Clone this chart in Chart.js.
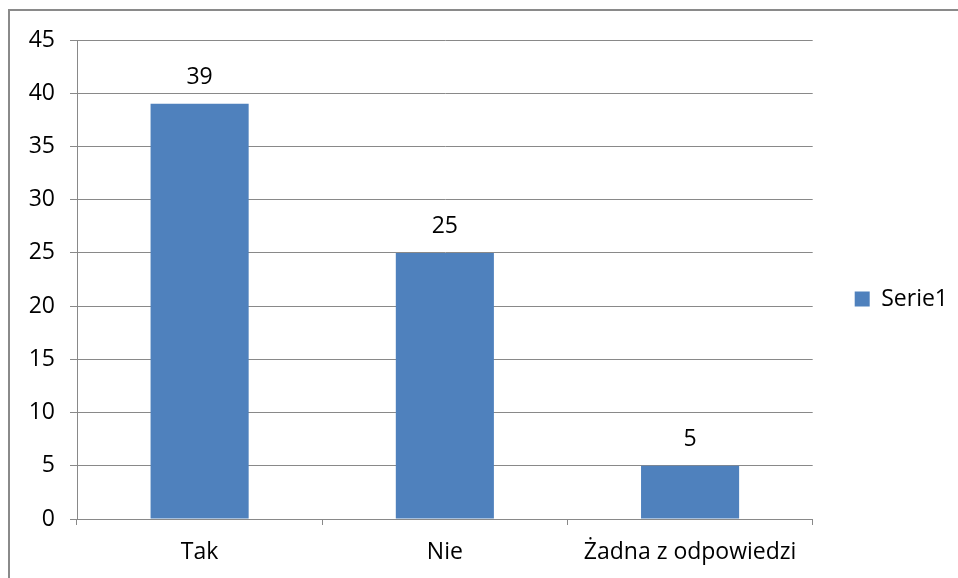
<!DOCTYPE html>
<html>
<head>
<meta charset="utf-8">
<script src="https://cdn.jsdelivr.net/npm/chart.js@4/dist/chart.umd.min.js"></script>
<style>
  html, body { margin: 0; padding: 0; background: #fff; }
  #wrap { position: relative; width: 958px; height: 578px; overflow: hidden; }
  #frame { position: absolute; left: 8px; top: 9px; width: 1000px; height: 1000px;
           border-left: 2px solid #8a8a8a; border-top: 2px solid #8a8a8a; pointer-events: none; }
  canvas { position: absolute; left: 0; top: 0; }
</style>
</head>
<body>
<div id="wrap">
  <canvas id="c" width="958" height="578"></canvas>
  <div id="frame"></div>
</div>
<script>
const categories = ['Tak', 'Nie', 'Żadna z odpowiedzi'];
const seriesName = 'Serie1';
const seriesValues = [39, 25, 5];
const yTicks = [0, 5, 10, 15, 20, 25, 30, 35, 40, 45];

const FONT = '"Open Sans", Lato, sans-serif';
const SIZE = 23;
const GRID = '#898989';

const valueLabels = {
  id: 'valueLabels',
  afterDatasetsDraw(chart) {
    const ctx = chart.ctx;
    const meta = chart.getDatasetMeta(0);
    ctx.save();
    ctx.font = SIZE + 'px ' + FONT;
    ctx.fillStyle = '#000';
    ctx.textAlign = 'center';
    ctx.textBaseline = 'middle';
    meta.data.forEach((bar, i) => {
      ctx.fillText(String(chart.data.datasets[0].data[i]), bar.x, bar.y - 26);
    });
    ctx.restore();
  }
};

new Chart(document.getElementById('c'), {
  type: 'bar',
  data: {
    labels: categories,
    datasets: [{
      label: seriesName,
      data: seriesValues,
      backgroundColor: '#4F81BD',
      borderWidth: 0,
      categoryPercentage: 1,
      barPercentage: 0.4
    }]
  },
  options: {
    responsive: false,
    animation: false,
    devicePixelRatio: 1,
    layout: { padding: { top: 20, right: 0, bottom: 0, left: 0 } },
    plugins: {
      legend: {
        position: 'right',
        maxWidth: 146,
        labels: {
          boxWidth: 15, boxHeight: 15, padding: 42,
          color: '#000',
          font: { family: FONT, size: SIZE }
        }
      },
      title: {
        display: true,
        text: '',
        fullSize: false,
        font: { size: 10, lineHeight: 1 },
        padding: { top: 5, bottom: 5 }
      },
      tooltip: { enabled: false }
    },
    scales: {
      x: {
        offset: true,
        grid: { offset: true, drawOnChartArea: false, drawTicks: true, tickLength: 6, color: GRID },
        border: { color: GRID, width: 1 },
        ticks: { color: '#000', font: { family: FONT, size: SIZE }, padding: 14, maxRotation: 0 },
        afterFit(s) { s.height = 59; }
      },
      y: {
        min: 0, max: 45,
        afterBuildTicks(s) { s.ticks = yTicks.map(v => ({ value: v })); },
        grid: { color: GRID, tickLength: 7, drawTicks: true },
        border: { color: GRID, width: 1 },
        ticks: { color: '#000', font: { family: FONT, size: SIZE }, padding: 15 },
        afterFit(s) { s.width = 77; }
      }
    }
  },
  plugins: [valueLabels]
});
</script>
</body>
</html>
